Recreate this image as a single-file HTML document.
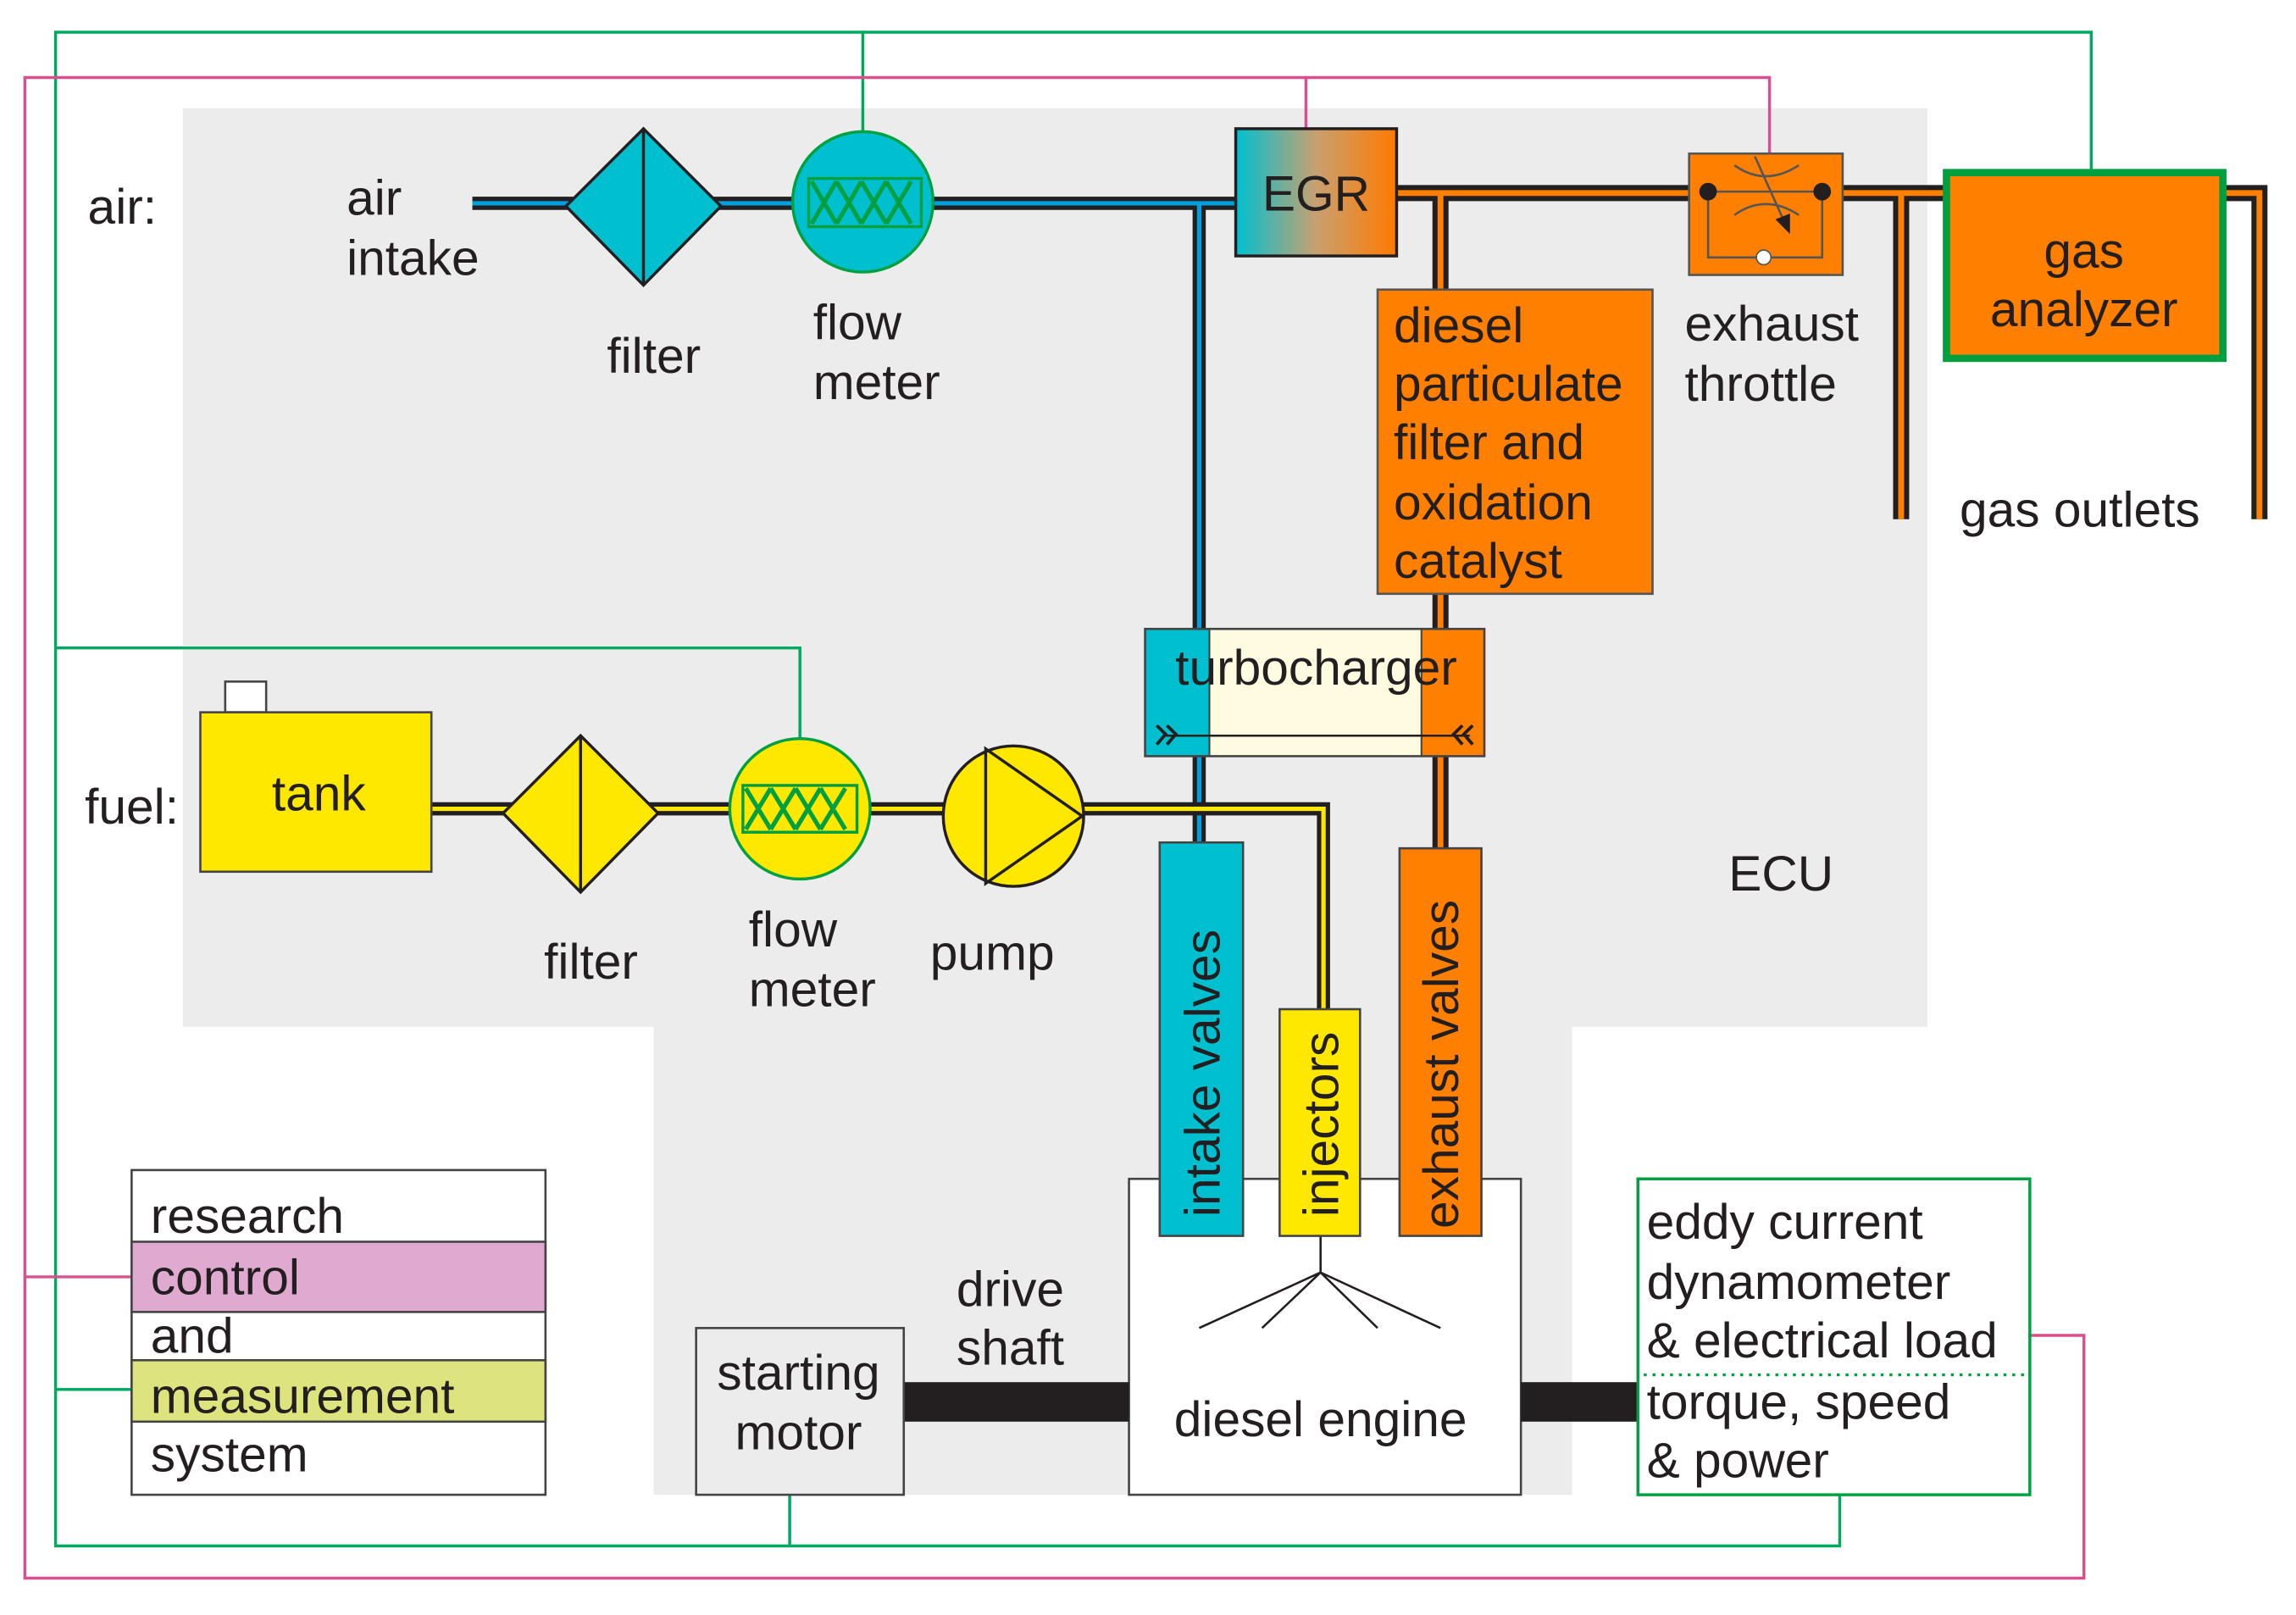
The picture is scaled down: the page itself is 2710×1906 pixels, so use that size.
<!DOCTYPE html>
<html><head><meta charset="utf-8"><style>
html,body{margin:0;padding:0;background:#fff}
svg{display:block}
text{font-family:"Liberation Sans",sans-serif;fill:#231f20;font-size:34px}
</style></head><body>
<svg width="2710" height="1906" viewBox="0 0 1570 1104.2" preserveAspectRatio="none" xmlns="http://www.w3.org/2000/svg">
<defs>
<linearGradient id="egr" x1="0" x2="1" y1="0" y2="0"><stop offset="0" stop-color="#00c0d0"/><stop offset="0.5" stop-color="#c8a070"/><stop offset="1" stop-color="#ff7a00"/></linearGradient>
</defs>
<rect width="1570" height="1105" fill="#fff"/>
<path d="M125 74H1318V702H1075V1022H447V702H125Z" fill="#ebeceb"/>

<g fill="none" stroke="#00a860" stroke-width="2">
<path d="M590 90V22H38V1057H1258V1022"/>
<path d="M590 22H1430V117"/>
<path d="M38 443H547V505"/>
<path d="M38 950H90"/>
<path d="M540 1022V1057"/>
</g>
<g fill="none" stroke="#d9508f" stroke-width="2">
<path d="M893 88V53H17V1079H1425V913H1388"/>
<path d="M893 53H1210V105"/>
<path d="M17 873H90"/>
</g>

<g fill="none" stroke-linejoin="miter">
<path d="M323 139H845 M820 139V430 M820 517V576" stroke="#231f20" stroke-width="9"/>
<path d="M323 139H845 M820 139V430 M820 517V576" stroke="#00a0e0" stroke-width="3"/>
<path d="M955 132H1545V355 M985 132V198 M985 406V430 M985 517V580 M1300 132V355" stroke="#231f20" stroke-width="11"/>
<path d="M955 132H1545V355 M985 132V198 M985 406V430 M985 517V580 M1300 132V355" stroke="#ff7f00" stroke-width="4"/>
<path d="M295 553H905V690" stroke="#231f20" stroke-width="9"/>
<path d="M295 553H905V690" stroke="#ffe800" stroke-width="3"/>
</g>

<polygon points="440,88 493,141 440,195 387,141" fill="#00c0d0" stroke="#231f20" stroke-width="2"/>
<line x1="440" y1="88" x2="440" y2="195" stroke="#231f20" stroke-width="2"/>
<ellipse cx="590" cy="138" rx="48" ry="48" fill="#00c0d0" stroke="#00a040" stroke-width="2"/>
<rect x="553" y="122" width="77" height="33" fill="none" stroke="#00a040" stroke-width="2"/>
<path d="M555 124l17 29M572 124l-17 29M572 124l17 29M589 124l-17 29M589 124l17 29M606 124l-17 29M606 124l17 29M623 124l-17 29" stroke="#00a040" stroke-width="3"/>

<rect x="845" y="88" width="110" height="87" fill="url(#egr)" stroke="#231f20" stroke-width="2"/>
<text x="900" y="144" text-anchor="middle" font-size="36">EGR</text>

<rect x="1155" y="105" width="105" height="83" fill="#ff7f00" stroke="#555" stroke-width="1.5"/>
<path d="M1168 131H1246 M1168 131V176H1246V131" stroke="#555" stroke-width="1.5" fill="none"/>
<circle cx="1168" cy="131" r="6" fill="#231f20"/><circle cx="1246" cy="131" r="6" fill="#231f20"/>
<circle cx="1206" cy="176" r="5" fill="#fff" stroke="#555"/>
<path d="M1186 113q21 15 44 0 M1186 147q21 -15 44 0" stroke="#555" fill="none" stroke-width="1.5"/>
<path d="M1200 107L1223 158" stroke="#555" stroke-width="1.5"/>
<path d="M1214 150l10 10 0-14z" fill="#231f20"/>

<rect x="1331" y="118" width="189" height="127" fill="#ff7f00" stroke="#00a040" stroke-width="5"/>
<text x="1425" y="183" text-anchor="middle">gas</text>
<text x="1425" y="223" text-anchor="middle">analyzer</text>

<rect x="942" y="198" width="188" height="208" fill="#ff7f00" stroke="#555" stroke-width="1.5"/>
<text x="953" y="234">diesel</text>
<text x="953" y="274">particulate</text>
<text x="953" y="314">filter and</text>
<text x="953" y="355">oxidation</text>
<text x="953" y="395">catalyst</text>

<rect x="783" y="430" width="44" height="87" fill="#00c0d0"/>
<rect x="827" y="430" width="145" height="87" fill="#fffbe0"/>
<rect x="972" y="430" width="43" height="87" fill="#ff7f00"/>
<rect x="783" y="430" width="232" height="87" fill="none" stroke="#444" stroke-width="1.5"/>
<line x1="827" y1="430" x2="827" y2="517" stroke="#444" stroke-width="1.2"/>
<line x1="972" y1="430" x2="972" y2="517" stroke="#444" stroke-width="1.2"/>
<line x1="795" y1="503" x2="1005" y2="503" stroke="#231f20" stroke-width="1.5"/>
<path d="M791 496l6 6-6 7 M798 496l6 6-6 7" stroke="#231f20" stroke-width="2.2" fill="none"/>
<path d="M1000 496l-6 6 6 7 M1007 496l-6 6 6 7" stroke="#231f20" stroke-width="2.2" fill="none"/>
<text x="900" y="468" text-anchor="middle">turbocharger</text>

<rect x="154" y="466" width="28" height="21" fill="#fff" stroke="#444" stroke-width="1.5"/>
<rect x="137" y="487" width="158" height="109" fill="#ffe800" stroke="#444" stroke-width="1.5"/>
<text x="218" y="554" text-anchor="middle">tank</text>
<polygon points="397,503 450,556 397,610 344,556" fill="#ffe800" stroke="#231f20" stroke-width="2"/>
<line x1="397" y1="503" x2="397" y2="610" stroke="#231f20" stroke-width="2"/>
<ellipse cx="547" cy="553" rx="48" ry="48" fill="#ffe800" stroke="#00a040" stroke-width="2"/>
<rect x="508" y="537" width="78" height="32" fill="none" stroke="#00a040" stroke-width="2"/>
<path d="M510 539l17 28M527 539l-17 28M527 539l17 28M544 539l-17 28M544 539l17 28M561 539l-17 28M561 539l17 28M578 539l-17 28" stroke="#00a040" stroke-width="3"/>
<circle cx="693" cy="558" r="48" fill="#ffe800" stroke="#231f20" stroke-width="2"/>
<polygon points="674,512 740,558 674,604" fill="none" stroke="#231f20" stroke-width="2"/>

<rect x="772" y="806" width="268" height="216" fill="#fff" stroke="#444" stroke-width="1.5"/>
<path d="M903 845V870 M903 870L820 908 M903 870L863 908 M903 870L942 908 M903 870L985 908" stroke="#231f20" stroke-width="1.5" fill="none"/>
<text x="903" y="982" text-anchor="middle">diesel engine</text>
<rect x="793" y="576" width="57" height="269" fill="#00c0d0" stroke="#444" stroke-width="1.5"/>
<rect x="875" y="690" width="55" height="155" fill="#ffe800" stroke="#444" stroke-width="1.5"/>
<rect x="957" y="580" width="56" height="265" fill="#ff7f00" stroke="#444" stroke-width="1.5"/>
<text transform="translate(834,832) rotate(-90)" font-size="32">intake valves</text>
<text transform="translate(915,832) rotate(-90)" font-size="32">injectors</text>
<text transform="translate(997,840) rotate(-90)" font-size="32">exhaust valves</text>

<rect x="618" y="945" width="154" height="27" fill="#231f20"/>
<rect x="1040" y="945" width="80" height="27" fill="#231f20"/>
<rect x="476" y="908" width="142" height="114" fill="#ebeceb" stroke="#444" stroke-width="1.5"/>
<text x="546" y="950" text-anchor="middle">starting</text>
<text x="546" y="991" text-anchor="middle">motor</text>
<text x="654" y="893">drive</text>
<text x="654" y="933">shaft</text>

<rect x="1120" y="806" width="268" height="216" fill="#fff" stroke="#00a040" stroke-width="2"/>
<line x1="1124" y1="940" x2="1386" y2="940" stroke="#00a040" stroke-width="2" stroke-dasharray="2 4"/>
<text x="1126" y="847">eddy current</text>
<text x="1126" y="888">dynamometer</text>
<text x="1126" y="928">&amp; electrical load</text>
<text x="1126" y="970">torque, speed</text>
<text x="1126" y="1010">&amp; power</text>

<rect x="90" y="800" width="283" height="222" fill="#fff" stroke="#444" stroke-width="1.5"/>
<rect x="90" y="849" width="283" height="48" fill="#e0aad0" stroke="#444" stroke-width="1.5"/>
<rect x="90" y="930" width="283" height="42" fill="#dde47e" stroke="#444" stroke-width="1.5"/>
<text x="103" y="843">research</text>
<text x="103" y="885">control</text>
<text x="103" y="925">and</text>
<text x="103" y="966">measurement</text>
<text x="103" y="1006">system</text>

<text x="60" y="153" font-size="36">air:</text>
<text x="237" y="147">air</text>
<text x="237" y="188">intake</text>
<text x="415" y="255">filter</text>
<text x="556" y="232">flow</text>
<text x="556" y="273">meter</text>
<text x="1152" y="233">exhaust</text>
<text x="1152" y="274">throttle</text>
<text x="1340" y="360">gas outlets</text>
<text x="58" y="563" font-size="36">fuel:</text>
<text x="372" y="669">filter</text>
<text x="512" y="647">flow</text>
<text x="512" y="688">meter</text>
<text x="636" y="663">pump</text>
<text x="1182" y="609">ECU</text>
</svg>
</body></html>
